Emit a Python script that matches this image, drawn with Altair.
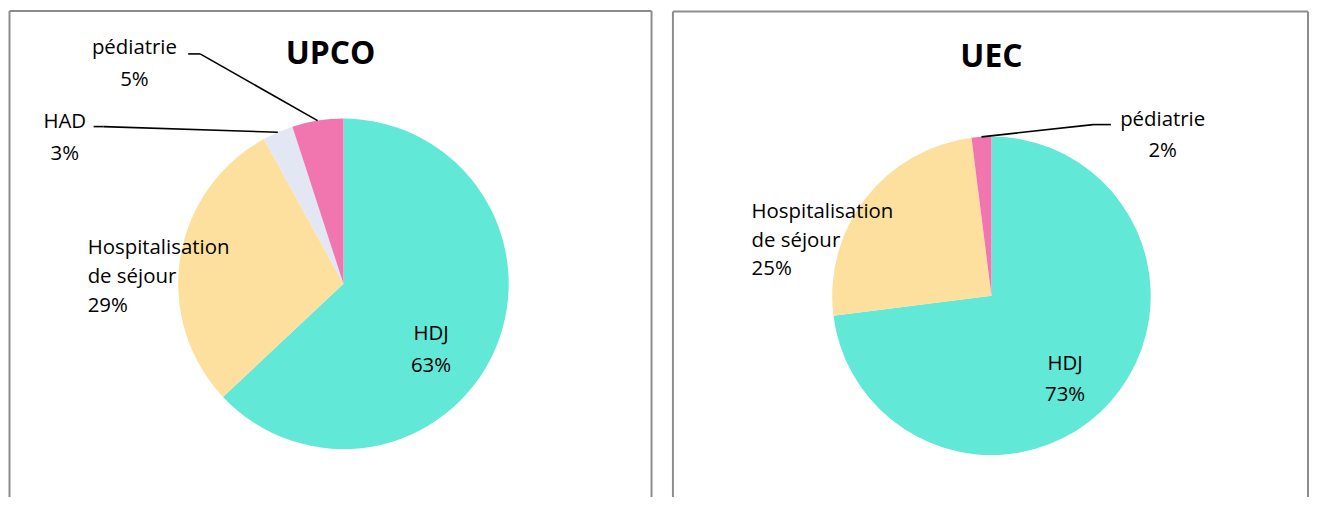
import math
import altair as alt
import pandas as pd

# ---------------- data ----------------
upco_categories = ["HDJ", "Hospitalisation de séjour", "HAD", "pédiatrie"]
upco_values = [63, 29, 3, 5]

uec_categories = ["HDJ", "Hospitalisation de séjour", "pédiatrie"]
uec_values = [73, 25, 2]

color_domain = ["HDJ", "Hospitalisation de séjour", "HAD", "pédiatrie"]
color_range = ["#62E8D6", "#FDE09D", "#E3E6F3", "#F176B0"]

FONT = "Open Sans"
LABEL_SIZE = 20.5
TITLE_SIZE = 32

# ---------------- layout (pixels inside each panel) ----------------
PANELS = {
    "UPCO": dict(width=660, height=490, cx=336, cy=276, r=166,
                 title_xy=(323, 55),
                 border=[(0.5, 2, 0.5, 490), (0.5, 2, 645.5, 2), (645.5, 2, 645.5, 490)],
                 labels={
                     "HDJ": dict(x=424, y=332, lh=33, align="center"),
                     "Hospitalisation de séjour": dict(x=79, y=246, lh=29, align="left"),
                     "HAD": dict(x=56, y=119, lh=33, align="center", leader=[(85, 118), (95, 118)]),
                     "pédiatrie": dict(x=126, y=45, lh=32, align="center", leader=[(180, 45), (192, 45)]),
                 }),
    "UEC": dict(width=646, height=490, cx=327, cy=288, r=160,
                title_xy=(327, 58),
                border=[(7, 2.5, 7, 490), (7, 2.5, 645, 2.5), (645, 2.5, 645, 490)],
                labels={
                    "HDJ": dict(x=401, y=363, lh=31, align="center"),
                    "Hospitalisation de séjour": dict(x=86, y=210, lh=28.5, align="left"),
                    "pédiatrie": dict(x=499, y=117, lh=32, align="center", leader=[(447, 116), (429, 116)]),
                }),
}

LINE_SPLIT = {"Hospitalisation de séjour": ["Hospitalisation", "de séjour"]}


def panel(name, cats, vals):
    P = PANELS[name]
    df = pd.DataFrame({"cat": cats, "value": vals, "idx": list(range(len(cats)))})
    total = float(sum(vals))

    arc = alt.Chart(df).mark_arc(outerRadius=P["r"], strokeWidth=0).encode(
        theta=alt.Theta("value:Q", stack=True),
        color=alt.Color("cat:N", scale=alt.Scale(domain=color_domain, range=color_range), legend=None),
        order=alt.Order("idx:Q"),
        x=alt.value(P["cx"]),
        y=alt.value(P["cy"]),
    )

    rows = []
    seg = []
    cum = 0.0
    for c, v in zip(cats, vals):
        mid = 2 * math.pi * (cum + v / 2.0) / total
        cum += v
        L = P["labels"][c]
        lines = LINE_SPLIT.get(c, [c]) + [f"{v}%"]
        for i, t in enumerate(lines):
            rows.append({"t": t, "x": L["x"], "y": L["y"] + i * L["lh"], "align": L["align"]})
        if "leader" in L:
            pts = list(L["leader"]) + [(P["cx"] + P["r"] * math.sin(mid), P["cy"] - P["r"] * math.cos(mid))]
            for (x1, y1), (x2, y2) in zip(pts[:-1], pts[1:]):
                seg.append({"x": x1, "y": y1, "x2": x2, "y2": y2})
    lab = pd.DataFrame(rows)

    def text_layer(align):
        return alt.Chart(lab).transform_filter(alt.datum.align == align).mark_text(
            align=align, baseline="alphabetic", font=FONT, fontSize=LABEL_SIZE, color="#000000"
        ).encode(
            x=alt.X("x:Q", scale=None, axis=None),
            y=alt.Y("y:Q", scale=None, axis=None),
            text="t:N",
        )

    leaders = alt.Chart(pd.DataFrame(seg)).mark_rule(color="#000000", strokeWidth=1.6).encode(
        x=alt.X("x:Q", scale=None, axis=None),
        y=alt.Y("y:Q", scale=None, axis=None),
        x2="x2:Q",
        y2="y2:Q",
    )

    bdf = pd.DataFrame([{"x": a, "y": b, "x2": c, "y2": d} for a, b, c, d in P["border"]])
    border = alt.Chart(bdf).mark_rule(color="#8C8C8C", strokeWidth=2).encode(
        x=alt.X("x:Q", scale=None, axis=None),
        y=alt.Y("y:Q", scale=None, axis=None),
        x2="x2:Q",
        y2="y2:Q",
    )

    tdf = pd.DataFrame([{"t": name, "x": P["title_xy"][0], "y": P["title_xy"][1]}])
    title = alt.Chart(tdf).mark_text(
        align="center", baseline="alphabetic", font=FONT, fontSize=TITLE_SIZE, fontWeight="bold", color="#000000"
    ).encode(
        x=alt.X("x:Q", scale=None, axis=None),
        y=alt.Y("y:Q", scale=None, axis=None),
        text="t:N",
    )

    return alt.layer(border, arc, leaders, text_layer("left"), text_layer("center"), title).properties(
        width=P["width"], height=P["height"]
    )


chart = alt.hconcat(
    panel("UPCO", upco_categories, upco_values),
    panel("UEC", uec_categories, uec_values),
    spacing=0,
).properties(padding=0, background="white").configure_view(strokeWidth=0)

chart.save("out.html", embed_options={"renderer": "svg", "actions": False})
